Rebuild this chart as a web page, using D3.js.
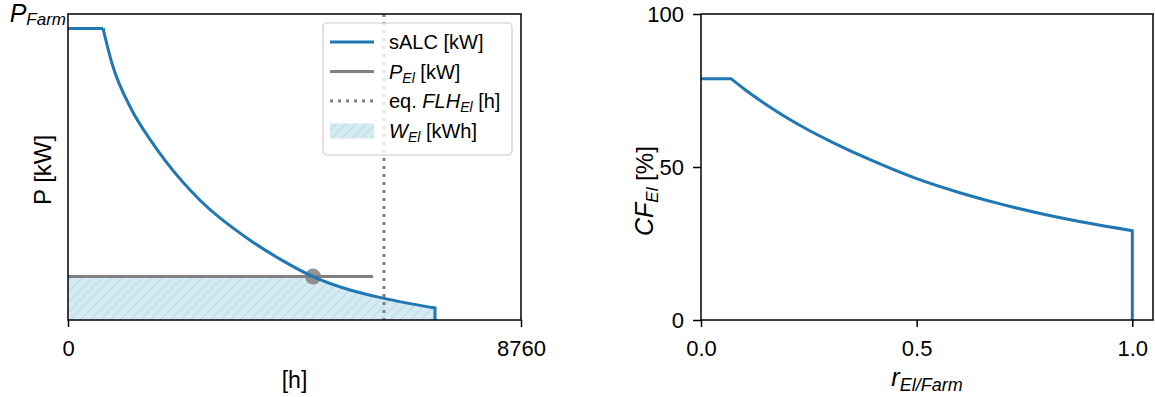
<!DOCTYPE html>
<html>
<head>
<meta charset="utf-8">
<script src="https://cdn.jsdelivr.net/npm/d3@7"></script>
<style>
  body { margin: 0; background: #fff; }
  svg { font-family: "Liberation Sans", Arial, sans-serif; }
</style>
</head>
<body>
<svg id="chart" width="1155" height="397"></svg>
<script>
// left panel: sorted annual load curve (hours vs kW, P_Farm = 100)
var pFarm = 100
var flatHours = [0, 677]
var decayHours = [677, 851, 1238, 1586, 1876, 2553, 3520, 4100, 4738, 5453, 6091, 7097]
var decayKW = [100, 88.0, 71.9, 62.0, 54.8, 41.1, 27.4, 20.9, 14.9, 10.3, 7.5, 4.1]
var pEl = 14.9          // electrolyser power
var pElEnd = 5900       // end of the grey line
var dotHour = 4738      // intersection marker
var flhEl = 6110        // equivalent full load hours
var hourTicks = [0, 8760]

// right panel: capacity factor vs size ratio
var flatRatio = [0, 0.07]
var decayRatio = [0.07, 0.1, 0.15, 0.2, 0.25, 0.3, 0.4, 0.5, 0.6, 0.7, 0.8, 0.9, 1.0]
var decayCF = [78.8, 75.5, 70.5, 66.0, 62.0, 58.4, 51.9, 46.2, 41.6, 37.7, 34.4, 31.6, 29.2]
var ratioTicks = [0.0, 0.5, 1.0]
var cfTicks = [0, 50, 100]

const svg = d3.select("#chart")
const blue = "#1f77b4", grey = "#808080"

svg.append("rect").attr("width", 1155).attr("height", 397).attr("fill", "#fff")

// hatch pattern for W_El
const defs = svg.append("defs")
const pat = defs.append("pattern")
    .attr("id", "hatch").attr("patternUnits", "userSpaceOnUse")
    .attr("width", 10).attr("height", 10)
pat.append("rect").attr("width", 10).attr("height", 10).attr("fill", "#d5eaf1")
pat.append("path").attr("d", "M-1,1 L1,-1 M0,10 L10,0 M9,11 L11,9")
    .attr("stroke", "#b9dcea").attr("stroke-width", 1.1)

// ---------- left panel ----------
const L = {x0: 68, x1: 521, y0: 14, y1: 320}
const xL = d3.scaleLinear().domain([0, 8760]).range([L.x0, L.x1])
const yL = d3.scaleLinear().domain([0, 105]).range([L.y1, L.y0])

defs.append("clipPath").attr("id", "belowEl")
    .append("rect").attr("x", L.x0).attr("y", yL(pEl))
    .attr("width", L.x1 - L.x0).attr("height", L.y1 - yL(pEl))

var decayPts = decayHours.map((h, i) => [h, decayKW[i]])

function curvePath(xs, ys, flatX, flatY, pts, dropX) {
    let mono = d3.line().x(d => xs(d[0])).y(d => ys(d[1])).curve(d3.curveMonotoneX)(pts)
    return "M" + xs(flatX[0]) + "," + ys(flatY) + "L" + xs(flatX[1]) + "," + ys(flatY) +
        "L" + mono.slice(1) + "L" + xs(dropX) + "," + ys(0)
}

// fill under curve, clipped at P_El
const salcArea = curvePath(xL, yL, flatHours, pFarm, decayPts, decayHours[decayHours.length - 1]) +
    "L" + xL(0) + "," + yL(0) + "Z"
svg.append("path").attr("d", salcArea).attr("fill", "url(#hatch)")
    .attr("clip-path", "url(#belowEl)")

// P_El line
svg.append("line")
    .attr("x1", xL(0)).attr("x2", xL(pElEnd))
    .attr("y1", yL(pEl)).attr("y2", yL(pEl))
    .attr("stroke", grey).attr("stroke-width", 3)

// eq. FLH dotted line
svg.append("line")
    .attr("x1", xL(flhEl)).attr("x2", xL(flhEl))
    .attr("y1", L.y0).attr("y2", L.y1)
    .attr("stroke", grey).attr("stroke-width", 3).attr("stroke-dasharray", "3,5")

// marker
svg.append("circle").attr("cx", xL(dotHour)).attr("cy", yL(pEl)).attr("r", 8)
    .attr("fill", grey).attr("opacity", 0.85)

// sALC curve
svg.append("path")
    .attr("d", curvePath(xL, yL, flatHours, pFarm, decayPts, decayHours[decayHours.length - 1]))
    .attr("fill", "none").attr("stroke", blue).attr("stroke-width", 3)

// frame + axes
svg.append("rect").attr("x", L.x0).attr("y", L.y0)
    .attr("width", L.x1 - L.x0).attr("height", L.y1 - L.y0)
    .attr("fill", "none").attr("stroke", "#000").attr("stroke-width", 1.5)

function styleAxis(g) {
    g.select(".domain").remove()
    g.selectAll(".tick line").attr("stroke", "#000").attr("stroke-width", 1.5)
    g.selectAll(".tick text").attr("font-size", 22).attr("fill", "#000")
        .attr("font-family", "Liberation Sans, Arial, sans-serif")
}

svg.append("g").attr("transform", `translate(0,${L.y1})`)
    .call(d3.axisBottom(xL).tickValues(hourTicks).tickFormat(d3.format("d")).tickSize(7).tickPadding(13))
    .call(styleAxis)

// P_Farm label at top of y axis
const pf = svg.append("text").attr("x", 66).attr("y", 22).attr("text-anchor", "end")
    .attr("font-style", "italic")
pf.append("tspan").attr("font-size", 25).text("P")
pf.append("tspan").attr("font-size", 17).attr("dy", 3).text("Farm")

svg.append("text").attr("transform", "translate(51,170) rotate(-90)")
    .attr("text-anchor", "middle").attr("font-size", 24).text("P [kW]")
svg.append("text").attr("x", (L.x0 + L.x1) / 2).attr("y", 388)
    .attr("text-anchor", "middle").attr("font-size", 23).text("[h]")

// legend
const lg = svg.append("g")
lg.append("rect").attr("x", 323).attr("y", 23).attr("width", 189).attr("height", 132)
    .attr("rx", 4).attr("fill", "#fff").attr("fill-opacity", 0.8)
    .attr("stroke", "#cccccc").attr("stroke-width", 1.2)

var legendRows = [
    {kind: "line", color: blue, dash: null},
    {kind: "line", color: grey, dash: null},
    {kind: "line", color: grey, dash: "3,5"},
    {kind: "patch"}
]
legendRows.forEach((r, i) => {
    let cy = 42 + 29.5 * i
    if (r.kind == "line") {
        lg.append("line").attr("x1", 330).attr("x2", 374).attr("y1", cy).attr("y2", cy)
            .attr("stroke", r.color).attr("stroke-width", 3)
            .attr("stroke-dasharray", r.dash)
    } else {
        lg.append("rect").attr("x", 330).attr("y", cy - 7).attr("width", 44).attr("height", 15)
            .attr("fill", "url(#hatch)")
    }
})

function legendText(i, parts) {
    let t = lg.append("text").attr("x", 389).attr("y", 42 + 29.5 * i + 7).attr("font-size", 20)
    parts.forEach(p => {
        let s = t.append("tspan").text(p.t)
        if (p.it) s.attr("font-style", "italic")
        if (p.sub) s.attr("font-size", 14).attr("dy", 4)
        if (p.up) s.attr("dy", -4)
    })
}
legendText(0, [{t: "sALC [kW]"}])
legendText(1, [{t: "P", it: true}, {t: "El", it: true, sub: true}, {t: " [kW]", up: true}])
legendText(2, [{t: "eq. "}, {t: "FLH", it: true}, {t: "El", it: true, sub: true}, {t: " [h]", up: true}])
legendText(3, [{t: "W", it: true}, {t: "El", it: true, sub: true}, {t: " [kWh]", up: true}])

// ---------- right panel ----------
const R = {x0: 701, x1: 1153, y0: 14, y1: 320}
const xR = d3.scaleLinear().domain([0, 1.048]).range([R.x0, R.x1])
const yR = d3.scaleLinear().domain([0, 100]).range([R.y1, R.y0])

var cfPts = decayRatio.map((r, i) => [r, decayCF[i]])
svg.append("path")
    .attr("d", curvePath(xR, yR, flatRatio, decayCF[0], cfPts, decayRatio[decayRatio.length - 1]))
    .attr("fill", "none").attr("stroke", blue).attr("stroke-width", 3)

svg.append("rect").attr("x", R.x0).attr("y", R.y0)
    .attr("width", R.x1 - R.x0).attr("height", R.y1 - R.y0)
    .attr("fill", "none").attr("stroke", "#000").attr("stroke-width", 1.5)

svg.append("g").attr("transform", `translate(0,${R.y1})`)
    .call(d3.axisBottom(xR).tickValues(ratioTicks).tickFormat(d3.format(".1f")).tickSize(7).tickPadding(13))
    .call(styleAxis)
svg.append("g").attr("transform", `translate(${R.x0},0)`)
    .call(d3.axisLeft(yR).tickValues(cfTicks).tickSize(8).tickPadding(9))
    .call(styleAxis)

const cfLab = svg.append("text").attr("transform", "translate(653,236) rotate(-90)")
    .attr("text-anchor", "start").attr("font-size", 24)
cfLab.append("tspan").attr("font-style", "italic").attr("font-size", 25).text("CF")
cfLab.append("tspan").attr("font-style", "italic").attr("font-size", 17).attr("dy", 5).text("El")
cfLab.append("tspan").attr("dy", -5).text(" [%]")

const rLab = svg.append("text").attr("x", (R.x0 + R.x1) / 2).attr("y", 386)
    .attr("text-anchor", "middle").attr("font-style", "italic")
rLab.append("tspan").attr("font-size", 25).text("r")
rLab.append("tspan").attr("font-size", 18).attr("dy", 5).text("El/Farm")
</script>
</body>
</html>
